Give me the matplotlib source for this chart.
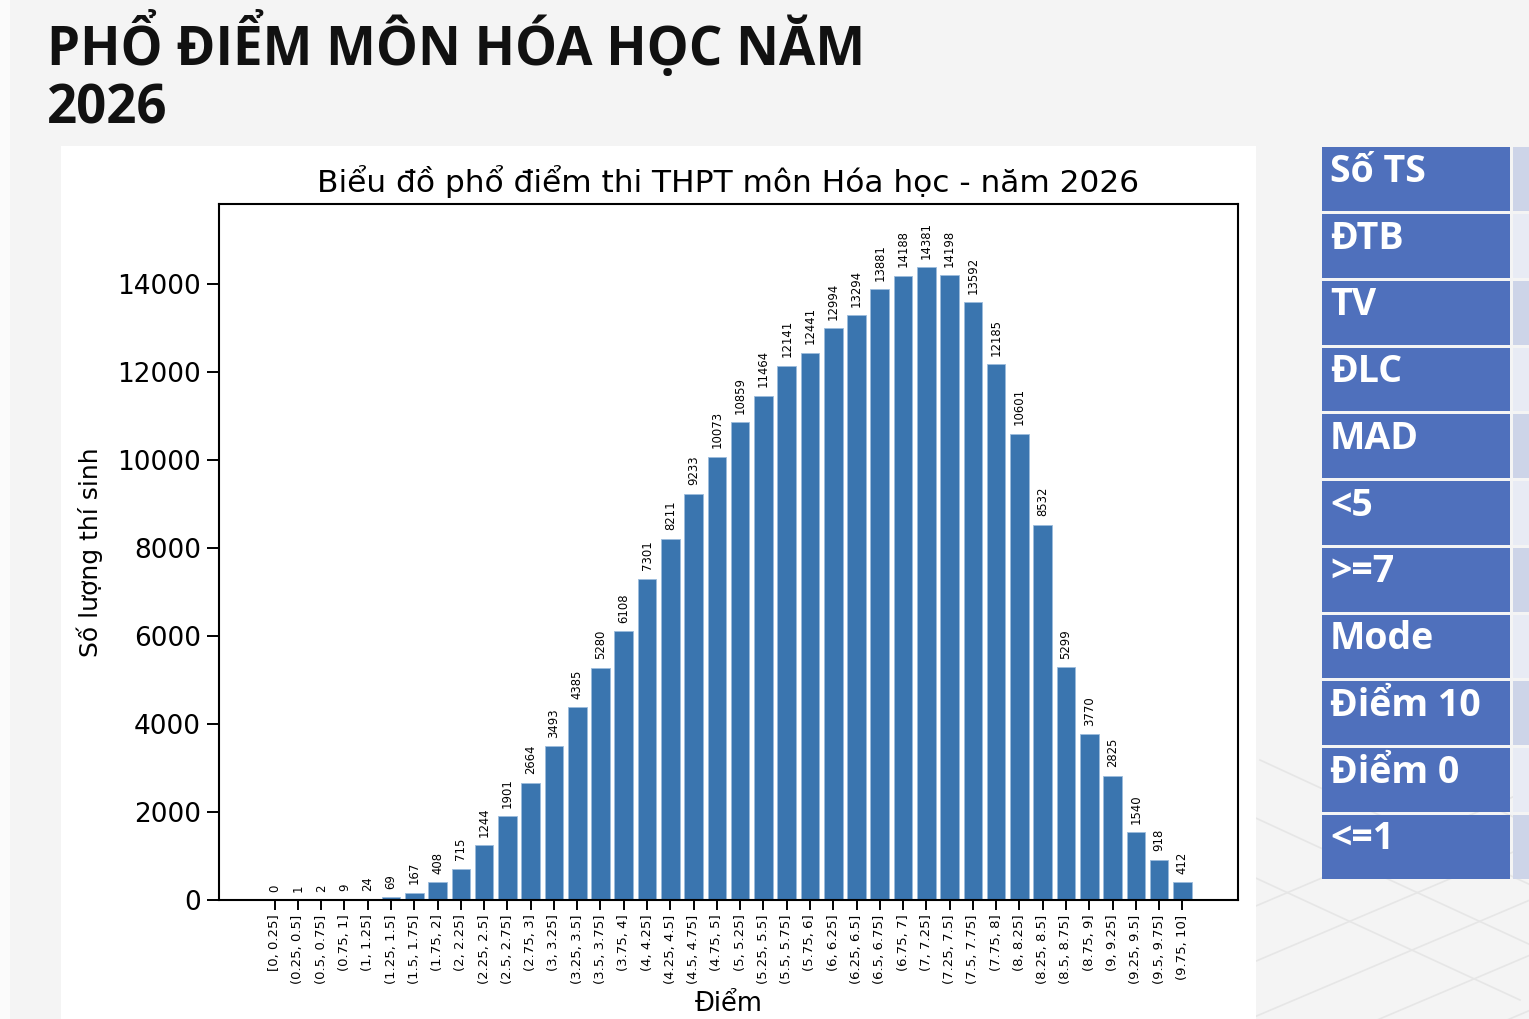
import matplotlib.pyplot as plt
from matplotlib.patches import Rectangle

# Data
bins = ["[0, 0.25]", "(0.25, 0.5]", "(0.5, 0.75]", "(0.75, 1]", "(1, 1.25]",
        "(1.25, 1.5]", "(1.5, 1.75]", "(1.75, 2]", "(2, 2.25]", "(2.25, 2.5]",
        "(2.5, 2.75]", "(2.75, 3]", "(3, 3.25]", "(3.25, 3.5]", "(3.5, 3.75]",
        "(3.75, 4]", "(4, 4.25]", "(4.25, 4.5]", "(4.5, 4.75]", "(4.75, 5]",
        "(5, 5.25]", "(5.25, 5.5]", "(5.5, 5.75]", "(5.75, 6]", "(6, 6.25]",
        "(6.25, 6.5]", "(6.5, 6.75]", "(6.75, 7]", "(7, 7.25]", "(7.25, 7.5]",
        "(7.5, 7.75]", "(7.75, 8]", "(8, 8.25]", "(8.25, 8.5]", "(8.5, 8.75]",
        "(8.75, 9]", "(9, 9.25]", "(9.25, 9.5]", "(9.5, 9.75]", "(9.75, 10]"]
counts = [0, 1, 2, 9, 24, 69, 167, 408, 715, 1244,
          1901, 2664, 3493, 4385, 5280, 6108, 7301, 8211, 9233, 10073,
          10859, 11464, 12141, 12441, 12994, 13294, 13881, 14188, 14381, 14198,
          13592, 12185, 10601, 8532, 5299, 3770, 2825, 1540, 918, 412]

stat_labels = ["Số TS", "ĐTB", "TV", "ĐLC", "MAD", "<5", ">=7",
               "Mode", "Điểm 10", "Điểm 0", "<=1"]

W, H = 1529, 1019
fig = plt.figure(figsize=(W / 100, H / 100), dpi=100)
fig.patch.set_facecolor("#f4f4f4")

# page decoration: left strip, faint floor grid lines
fig.patches.append(Rectangle((0, 0), 10 / W, 1, transform=fig.transFigure,
                             facecolor="#fbfbfb", edgecolor="none", zorder=0))
for x0 in range(1000, 1800, 130):
    fig.lines.append(plt.Line2D([x0 / W, (x0 + 520) / W], [1 - 760 / H, 1 - 1000 / H],
                                transform=fig.transFigure, color="#e6e6e6", lw=1.2, zorder=0))
    fig.lines.append(plt.Line2D([(x0 + 600) / W, (x0 - 60) / W], [1 - 760 / H, 1 - 1040 / H],
                                transform=fig.transFigure, color="#e6e6e6", lw=1.2, zorder=0))

# white panel that holds the chart image
fig.patches.append(Rectangle((61 / W, 0), (1256 - 61) / W, 1 - 146 / H,
                             transform=fig.transFigure, facecolor="white",
                             edgecolor="none", zorder=1))

# page heading
head_font = ["Open Sans", "DejaVu Sans"]
fig.text(47 / W, 1 - 65 / H, "PHỔ ĐIỂM MÔN HÓA HỌC NĂM", fontsize=38,
         fontweight="bold", family=head_font, va="baseline", ha="left", color="#111111")
fig.text(47 / W, 1 - 123 / H, "2026", fontsize=38,
         fontweight="bold", family=head_font, va="baseline", ha="left", color="#111111")

# the chart
ax = fig.add_axes([219 / W, 1 - 900 / H, (1238 - 219) / W, (900 - 204) / H])
ax.set_zorder(2)
x = range(len(bins))
ax.bar(x, counts, color="#3a75af", edgecolor="#9bbcdc", linewidth=0.6)
for xi, c in zip(x, counts):
    ax.annotate(str(c), (xi, c), xytext=(0, 6), textcoords="offset points",
                rotation=90, ha="center", va="bottom", fontsize=8.4)
ax.set_xticks(list(x))
ax.set_xticklabels(bins, rotation=90, fontsize=9.5)
ax.set_ylim(0, max(counts) * 1.1)
ax.tick_params(axis="y", labelsize=19, length=8.5, width=1.4, pad=4.5)
ax.tick_params(axis="x", length=7, width=1.4)
for s in ax.spines.values():
    s.set_linewidth(1.5)
ax.set_title("Biểu đồ phổ điểm thi THPT môn Hóa học - năm 2026", fontsize=22.5, pad=9)
ax.set_ylabel("Số lượng thí sinh", fontsize=18, labelpad=10)
ax.set_xlabel("Điểm", fontsize=18.5, labelpad=5)

# stats table on the right (labels only, values are cut off)
row_h = (880 - 146) / len(stat_labels)
for i, lab in enumerate(stat_labels):
    top = 146 + i * row_h
    fig.patches.append(Rectangle((1322 / W, 1 - (top + row_h - 1.5) / H), (1510 - 1322) / W,
                                 (row_h - 3) / H, transform=fig.transFigure,
                                 facecolor="#4f70bc", edgecolor="none", zorder=1))
    fig.patches.append(Rectangle((1513 / W, 1 - (top + row_h - 1.5) / H), 20 / W,
                                 (row_h - 3) / H, transform=fig.transFigure,
                                 facecolor="#cdd4e8" if i % 2 == 0 else "#e8ebf4",
                                 edgecolor="none", zorder=1))
    fig.text(1330 / W, 1 - (top + 26) / H, lab, fontsize=27, fontweight="bold",
             color="white", family=head_font, va="center", ha="left", zorder=3)

fig.savefig("out.png", dpi=100, facecolor=fig.get_facecolor())
